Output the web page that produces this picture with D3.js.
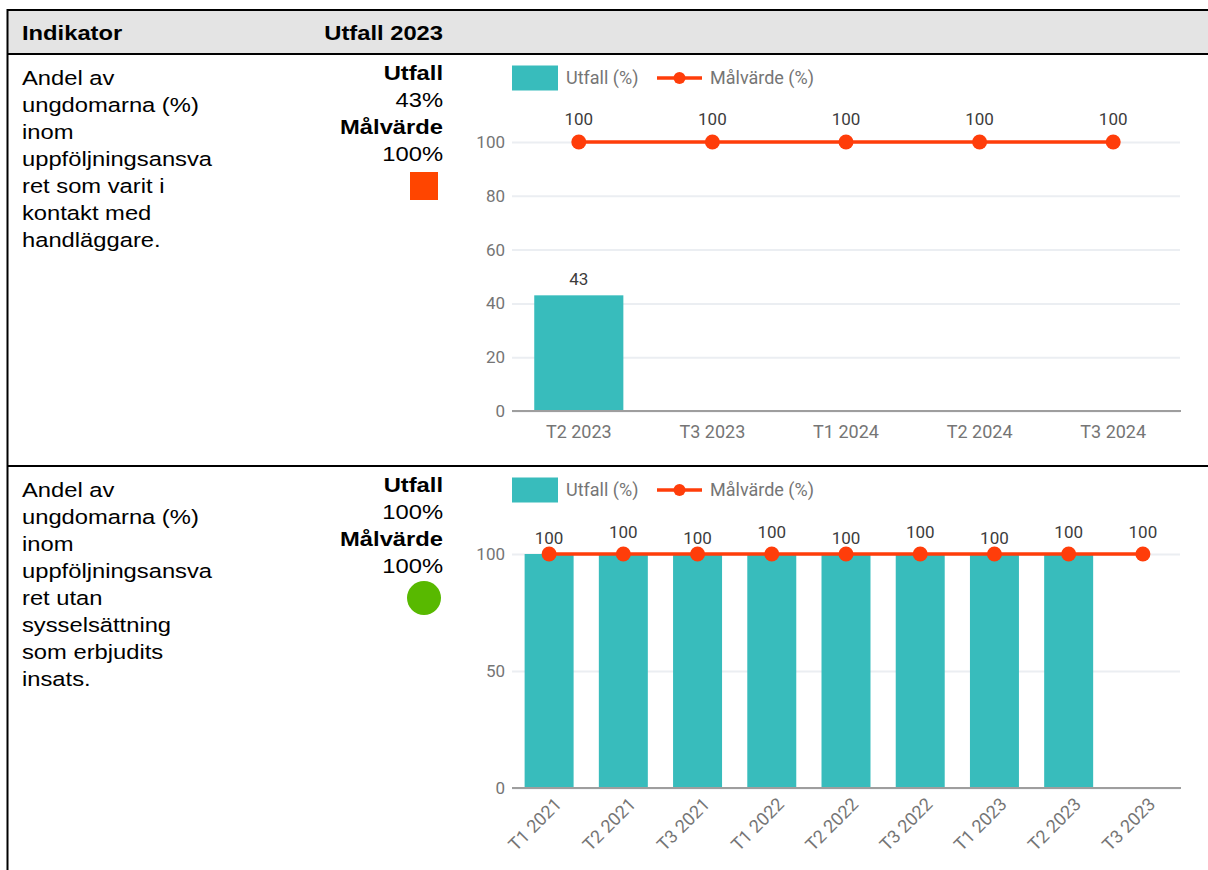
<!DOCTYPE html>
<html>
<head>
<meta charset="utf-8">
<script src="https://cdn.jsdelivr.net/npm/d3@7"></script>
<style>
  html, body { margin: 0; padding: 0; background: #fff; }
  svg { display: block; }
</style>
</head>
<body>
<svg id="page" width="1208" height="870"></svg>
<script>
// ---- Table text ----
const headerCols = ["Indikator", "Utfall 2023"];
const indicator1Lines = ["Andel av", "ungdomarna (%)", "inom", "uppföljningsansva", "ret som varit i", "kontakt med", "handläggare."];
const indicator2Lines = ["Andel av", "ungdomarna (%)", "inom", "uppföljningsansva", "ret utan", "sysselsättning", "som erbjudits", "insats."];
const summaryLabels = ["Utfall", "Målvärde"];
const summary1 = [43, 100];     // utfall, målvärde
const summary2 = [100, 100];
const status1 = "red";
const status2 = "green";

// ---- Chart 1 ----
const periods1 = ["T2 2023", "T3 2023", "T1 2024", "T2 2024", "T3 2024"];
const utfall1 = [43, null, null, null, null];
const malvarde1 = [100, 100, 100, 100, 100];
const yTicks1 = [0, 20, 40, 60, 80, 100];

// ---- Chart 2 ----
const periods2 = ["T1 2021", "T2 2021", "T3 2021", "T1 2022", "T2 2022", "T3 2022", "T1 2023", "T2 2023", "T3 2023"];
const utfall2 = [100, 100, 100, 100, 100, 100, 100, 100, null];
const malvarde2 = [100, 100, 100, 100, 100, 100, 100, 100, 100];
const yTicks2 = [0, 50, 100];

const seriesNames = ["Utfall (%)", "Målvärde (%)"];

// ---- Styles ----
const TABLE_FONT = "'Liberation Sans', Arial, Helvetica, sans-serif";
const CHART_FONT = "Roboto, 'Noto Sans', sans-serif";
const TEAL = "#38bcbc";
const RED = "#ff3d0a";
const STATUS_COLORS = { red: "#ff4500", green: "#58b900" };
const GRID = "#ebeef2";
const AXIS_TEXT = "#757575";
const VALUE_TEXT = "#3c3c3c";
const STRETCH = 1.17;

const svg = d3.select("#page");

// ---------- table frame ----------
const frame = svg.append("g");
frame.append("rect").attr("x", 8).attr("y", 10).attr("width", 1200).attr("height", 44).attr("fill", "#e4e4e4");
frame.append("line").attr("x1", 7).attr("x2", 1208).attr("y1", 10).attr("y2", 10).attr("stroke", "#000").attr("stroke-width", 2);
frame.append("line").attr("x1", 7).attr("x2", 1208).attr("y1", 54).attr("y2", 54).attr("stroke", "#000").attr("stroke-width", 2.2);
frame.append("line").attr("x1", 7).attr("x2", 1208).attr("y1", 466).attr("y2", 466).attr("stroke", "#000").attr("stroke-width", 2);
frame.append("line").attr("x1", 7.5).attr("x2", 7.5).attr("y1", 9).attr("y2", 870).attr("stroke", "#000").attr("stroke-width", 2);

function tableText(g, x, y, str, opts = {}) {
  return g.append("text")
    .attr("transform", `translate(${x},${y}) scale(${STRETCH},1)`)
    .attr("text-anchor", opts.anchor || "start")
    .attr("font-family", TABLE_FONT)
    .attr("font-size", opts.size || 20.3)
    .attr("font-weight", opts.bold ? "bold" : "normal")
    .attr("fill", "#000")
    .text(str);
}

// header
tableText(frame, 22, 40, headerCols[0], { bold: true });
tableText(frame, 443, 40, headerCols[1], { bold: true, anchor: "end" });

function drawRowText(top, lines, summary, status) {
  const g = svg.append("g");
  lines.forEach((l, i) => tableText(g, 22, top + 31 + i * 27, l));
  const colRight = 443;
  const y0 = top + 26;
  tableText(g, colRight, y0, summaryLabels[0], { bold: true, anchor: "end" });
  tableText(g, colRight, y0 + 27, summary[0] + "%", { anchor: "end" });
  tableText(g, colRight, y0 + 54, summaryLabels[1], { bold: true, anchor: "end" });
  tableText(g, colRight, y0 + 81, summary[1] + "%", { anchor: "end" });
  const cy = top + 132;
  if (status === "red") {
    g.append("rect").attr("x", 410).attr("y", cy - 14).attr("width", 28).attr("height", 28)
      .attr("fill", STATUS_COLORS.red);
  } else {
    g.append("circle").attr("cx", 424).attr("cy", cy).attr("r", 17).attr("fill", STATUS_COLORS.green);
  }
}
drawRowText(54, indicator1Lines, summary1, status1);
drawRowText(466, indicator2Lines, summary2, status2);

// ---------- combo charts ----------
function drawChart(cfg) {
  const g = svg.append("g");
  const left = 512, right = 1180;
  const x = d3.scaleBand().domain(cfg.periods).range([left, right])
    .paddingInner(cfg.pad).paddingOuter(cfg.pad / 2);
  const y = d3.scaleLinear().domain([0, 100]).range([cfg.bottom, cfg.top]);

  // legend
  const ly = cfg.legendY;
  g.append("rect").attr("x", 512).attr("y", ly - 12.5).attr("width", 46).attr("height", 25).attr("fill", TEAL);
  g.append("text").attr("x", 566).attr("y", ly).attr("dy", "0.35em")
    .attr("font-family", CHART_FONT).attr("font-size", 18).attr("fill", AXIS_TEXT).text(seriesNames[0]);
  g.append("line").attr("x1", 657).attr("x2", 702).attr("y1", ly).attr("y2", ly)
    .attr("stroke", RED).attr("stroke-width", 3.4);
  g.append("circle").attr("cx", 679.5).attr("cy", ly).attr("r", 6).attr("fill", RED);
  g.append("text").attr("x", 710).attr("y", ly).attr("dy", "0.35em")
    .attr("font-family", CHART_FONT).attr("font-size", 18).attr("fill", AXIS_TEXT).text(seriesNames[1]);

  // y axis with gridlines
  const yAxis = g.append("g").attr("transform", `translate(${left},0)`)
    .call(d3.axisLeft(y).tickValues(cfg.yTicks).tickSize(-(right - left)).tickPadding(7));
  yAxis.select(".domain").remove();
  yAxis.selectAll(".tick line").attr("stroke", GRID).attr("stroke-width", 2);
  yAxis.selectAll(".tick text").attr("font-family", CHART_FONT).attr("font-size", 17).attr("fill", AXIS_TEXT);

  // bars
  g.append("g").selectAll("rect")
    .data(cfg.periods.map((p, i) => ({ p, v: cfg.utfall[i] })).filter(d => d.v != null))
    .join("rect")
    .attr("x", d => x(d.p)).attr("width", x.bandwidth())
    .attr("y", d => y(d.v)).attr("height", d => y(0) - y(d.v))
    .attr("fill", TEAL);

  // baseline
  g.append("line").attr("x1", left).attr("x2", right + 1).attr("y1", y(0)).attr("y2", y(0))
    .attr("stroke", "#9e9e9e").attr("stroke-width", 2);

  // x axis labels
  const xAxis = g.append("g").attr("transform", `translate(0,${y(0)})`)
    .call(d3.axisBottom(x).tickSize(0).tickPadding(cfg.rotate ? 0 : 14));
  xAxis.select(".domain").remove();
  const xt = xAxis.selectAll(".tick text").attr("font-family", CHART_FONT)
    .attr("font-size", 18).attr("fill", AXIS_TEXT);
  if (cfg.rotate) {
    xt.attr("text-anchor", "end").attr("dy", "0.35em").attr("y", 0)
      .attr("transform", "translate(9,13) rotate(-45)");
  }

  // target line and points
  const cx = p => x(p) + x.bandwidth() / 2;
  const pts = cfg.periods.map((p, i) => ({ p, v: cfg.malvarde[i], i }));
  g.append("path").datum(pts)
    .attr("d", d3.line().x(d => cx(d.p)).y(d => y(d.v)))
    .attr("fill", "none").attr("stroke", RED).attr("stroke-width", 3.4);
  g.append("g").selectAll("circle").data(pts).join("circle")
    .attr("cx", d => cx(d.p)).attr("cy", d => y(d.v)).attr("r", 7.5).attr("fill", RED);

  // value labels: target points (staggered when crowded)
  const n = pts.length;
  g.append("g").selectAll("text").data(pts).join("text")
    .attr("x", d => cx(d.p))
    .attr("y", d => y(d.v) - (cfg.stagger ? ((d.i % 2 === 1 || d.i === n - 1) ? cfg.lift[1] : cfg.lift[0]) : cfg.lift[0]))
    .attr("text-anchor", "middle").attr("font-family", CHART_FONT).attr("font-size", 17)
    .attr("fill", VALUE_TEXT).text(d => d.v);

  // value labels: bars whose value differs from the target
  g.append("g").selectAll("text")
    .data(cfg.periods.map((p, i) => ({ p, v: cfg.utfall[i], t: cfg.malvarde[i] })).filter(d => d.v != null && d.v !== d.t))
    .join("text")
    .attr("x", d => cx(d.p)).attr("y", d => y(d.v) - 10)
    .attr("text-anchor", "middle").attr("font-family", CHART_FONT).attr("font-size", 17)
    .attr("fill", VALUE_TEXT).text(d => d.v);
}

drawChart({
  periods: periods1, utfall: utfall1, malvarde: malvarde1, yTicks: yTicks1,
  top: 142, bottom: 411, legendY: 78, pad: 0.333, rotate: false, stagger: false, lift: [17]
});
drawChart({
  periods: periods2, utfall: utfall2, malvarde: malvarde2, yTicks: yTicks2,
  top: 554, bottom: 788, legendY: 490, pad: 0.34, rotate: true, stagger: true, lift: [10, 16]
});
</script>
</body>
</html>
